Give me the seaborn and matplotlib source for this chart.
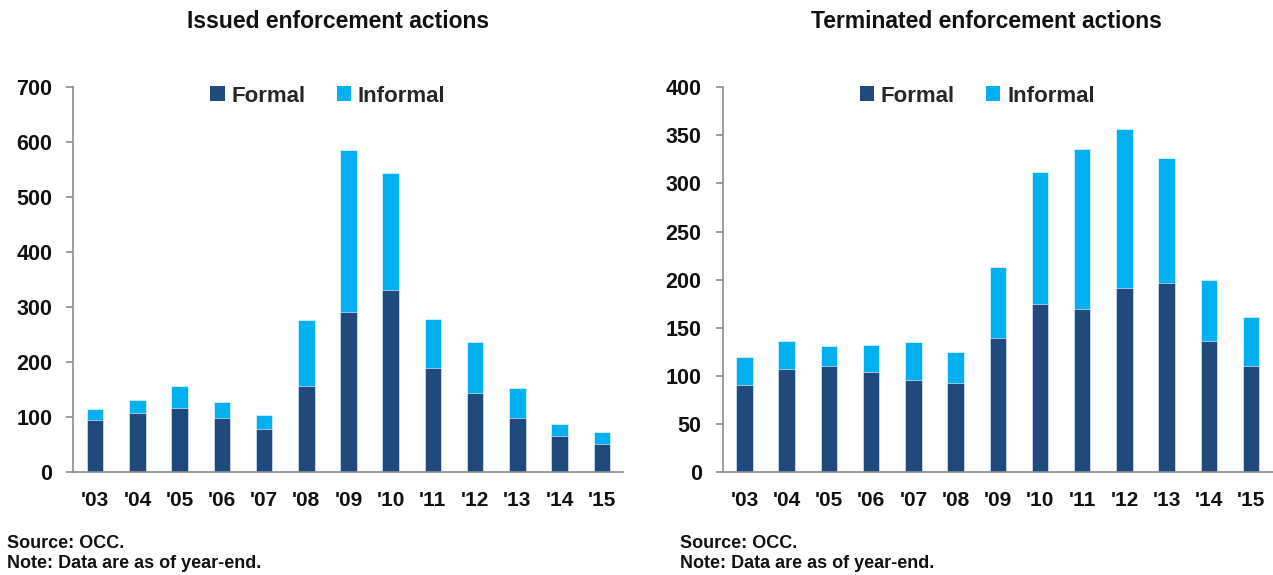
import matplotlib
matplotlib.use("Agg")
import matplotlib.pyplot as plt
import seaborn as sns
import pandas as pd
from matplotlib.patches import Patch

years = ["'03", "'04", "'05", "'06", "'07", "'08", "'09", "'10", "'11", "'12", "'13", "'14", "'15"]

issued_formal = [94, 108, 117, 98, 78, 157, 292, 331, 190, 143, 98, 65, 51]
issued_total = [115, 131, 157, 127, 103, 276, 586, 544, 278, 236, 152, 87, 73]

terminated_formal = [90, 107, 110, 104, 96, 93, 139, 175, 170, 191, 197, 136, 110]
terminated_total = [120, 136, 131, 132, 135, 125, 213, 312, 336, 357, 327, 200, 161]

formal_color = "#204A7E"
informal_color = "#00B0F0"
spine_color = "#8C8C8C"

sns.set_theme(style="white")
plt.rcParams["font.family"] = ["Liberation Sans", "DejaVu Sans"]

fig = plt.figure(figsize=(12.73, 5.75), dpi=100)
W, H = 1273, 575
bottom_px, top_px = 472, 87.3

def make_ax(left_px, right_px):
    return fig.add_axes([left_px / W, (H - bottom_px) / H,
                         (right_px - left_px) / W, (bottom_px - top_px) / H])

ax1 = make_ax(73.3, 623.3)
ax2 = make_ax(722.5, 1272.7)

panels = [
    (ax1, issued_formal, issued_total, 700, 100, "Issued enforcement actions", 338.5, 7),
    (ax2, terminated_formal, terminated_total, 400, 50, "Terminated enforcement actions", 986, 680),
]

for ax, formal, total, ymax, step, title, title_x, foot_x in panels:
    df = pd.DataFrame({"year": years, "formal": formal, "total": total})
    sns.barplot(data=df, x="year", y="total", color=informal_color, width=0.39,
                saturation=1, ax=ax, edgecolor="white", linewidth=0.4, order=years)
    sns.barplot(data=df, x="year", y="formal", color=formal_color, width=0.39,
                saturation=1, ax=ax, edgecolor="white", linewidth=0.4, order=years)
    ax.set_xlim(-0.52, 12.51)
    ax.set_ylim(0, ymax)
    ax.set_yticks(range(0, ymax + 1, step))
    ax.set_xlabel("")
    ax.set_ylabel("")
    for side in ["top", "right"]:
        ax.spines[side].set_visible(False)
    for side in ["left", "bottom"]:
        ax.spines[side].set_color(spine_color)
        ax.spines[side].set_linewidth(1.2)
    ax.tick_params(axis="y", which="both", left=True, length=5, width=1.2,
                   color=spine_color, pad=10, labelsize=15.5)
    ax.tick_params(axis="x", length=0, pad=13.5, labelsize=15)
    for lbl in ax.get_xticklabels() + ax.get_yticklabels():
        lbl.set_fontweight("bold")
        lbl.set_color("#111111")
    handles = [Patch(facecolor=formal_color, edgecolor="none"),
               Patch(facecolor=informal_color, edgecolor="none")]
    ax.legend(handles, ["Formal", "Informal"], loc="center", bbox_to_anchor=(0.463, 0.977),
              ncol=2, frameon=False, handlelength=0.65, handleheight=0.65,
              handletextpad=0.3, columnspacing=1.4, borderaxespad=0,
              prop={"weight": "bold", "size": 16})
    fig.text(title_x / W, 1 - 21 / H, title, ha="center", va="center",
             fontsize=16.5, fontweight="bold", color="#111111")
    fig.text(foot_x / W, 1 - 544 / H, "Source: OCC.", ha="left", va="center",
             fontsize=13, fontweight="bold", color="#111111")
    fig.text(foot_x / W, 1 - 564 / H, "Note: Data are as of year-end.", ha="left", va="center",
             fontsize=13, fontweight="bold", color="#111111")

fig.savefig("out.png", dpi=100)
